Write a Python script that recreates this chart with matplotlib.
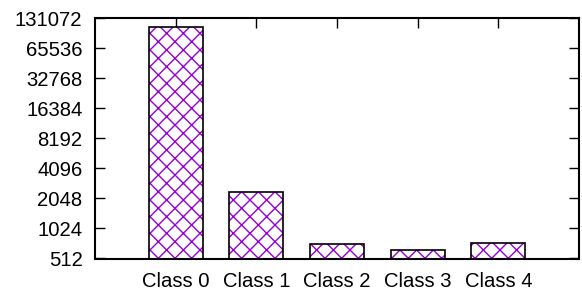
import matplotlib
matplotlib.use("Agg")
import matplotlib.pyplot as plt
from matplotlib.ticker import FixedLocator, FixedFormatter, NullLocator

categories = ["Class 0", "Class 1", "Class 2", "Class 3", "Class 4"]
values = [106000, 2400, 708, 625, 725]
yticks = [512, 1024, 2048, 4096, 8192, 16384, 32768, 65536, 131072]
ytick_labels = [str(t) for t in yticks]

plt.rcParams['font.family'] = ['Liberation Sans', 'DejaVu Sans']
plt.rcParams['hatch.linewidth'] = 1.0

fig = plt.figure(figsize=(5.82, 2.91), dpi=100)
ax = fig.add_axes([95/582, 1-258.5/291, (579-95)/582, (258.5-18.3)/291])

x = list(range(len(categories)))
purple = '#9400D3'
ax.bar(x, values, width=0.67, color='white', edgecolor=purple, hatch='xx', linewidth=0, zorder=2)
ax.bar(x, values, width=0.67, fill=False, edgecolor='black', linewidth=1.2, zorder=3)

ax.set_yscale('log', base=2)
ax.set_ylim(512, 131072)
ax.set_xlim(-1, 5)
ax.yaxis.set_major_locator(FixedLocator(yticks))
ax.yaxis.set_major_formatter(FixedFormatter(ytick_labels))
ax.yaxis.set_minor_locator(NullLocator())
ax.set_xticks(x)
ax.set_xticklabels(categories)

for s in ax.spines.values():
    s.set_linewidth(1.5)
ax.tick_params(axis='both', which='major', direction='in', length=7, width=1.0,
               labelsize=14.6, top=True, right=True, colors='black')
ax.tick_params(axis='y', pad=9)
ax.tick_params(axis='x', pad=10)

fig.savefig("out.png", dpi=100)
